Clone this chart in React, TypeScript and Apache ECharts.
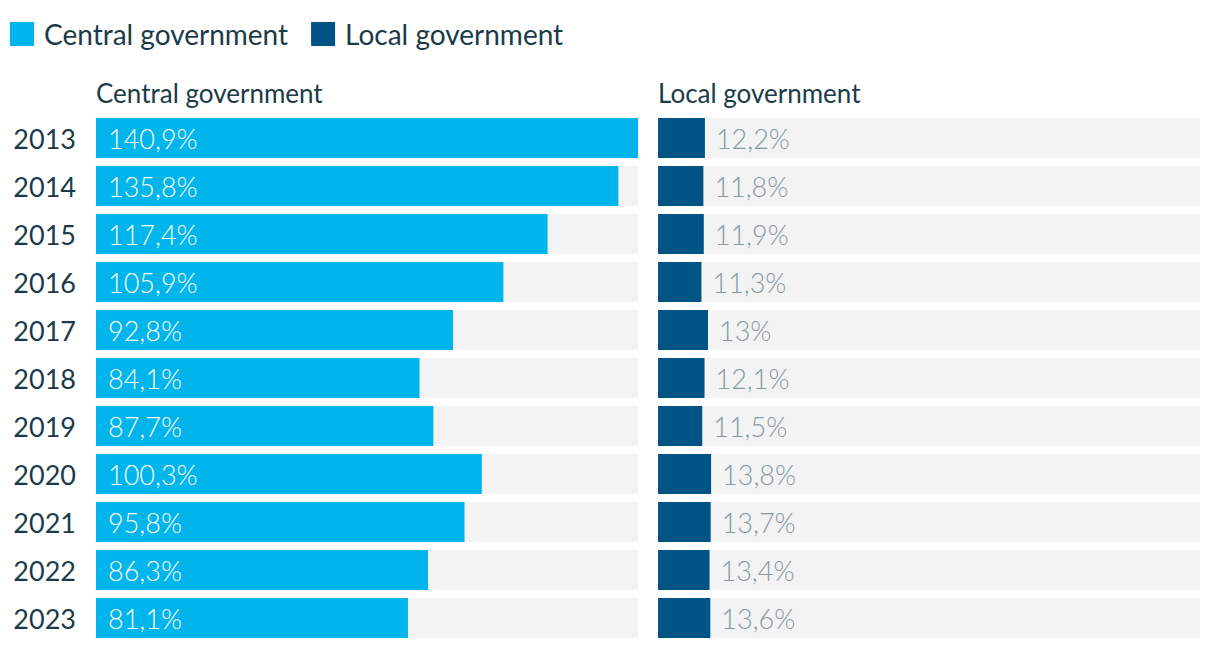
import React, { useEffect, useRef } from "react";
import * as echarts from "echarts";

const years = ["2013", "2014", "2015", "2016", "2017", "2018", "2019", "2020", "2021", "2022", "2023"];
const centralValues = [140.9, 135.8, 117.4, 105.9, 92.8, 84.1, 87.7, 100.3, 95.8, 86.3, 81.1];
const localValues = [12.2, 11.8, 11.9, 11.3, 13, 12.1, 11.5, 13.8, 13.7, 13.4, 13.6];
const seriesNames = ["Central government", "Local government"];

const CYAN = "#00b4ec";
const NAVY = "#005486";
const TEXT = "#1b3b48";
const FONT = "Lato, 'Noto Sans', sans-serif";

const fmt = (v: number) => String(v).replace(".", ",") + "%";

export default function App() {
  const ref = useRef<HTMLDivElement>(null);
  useEffect(() => {
    if (!ref.current) return;
    const chart = echarts.init(ref.current, undefined, { renderer: "svg" });
    const maxV = 140.9;
    chart.setOption({
      animation: false,
      textStyle: { fontFamily: FONT },
      legend: {
        left: 2,
        top: 12,
        padding: 0,
        itemWidth: 24,
        itemHeight: 24,
        itemGap: 23,
        icon: "rect",
        data: seriesNames,
        textStyle: { fontSize: 28, color: TEXT, fontFamily: FONT, padding: [0, 0, 0, 5] },
        selectedMode: false,
      },
      title: [
        { text: "Central government", left: 88, top: 72, padding: 0, textStyle: { fontSize: 26, fontWeight: "normal", color: TEXT, fontFamily: FONT } },
        { text: "Local government", left: 650, top: 72, padding: 0, textStyle: { fontSize: 26, fontWeight: "normal", color: TEXT, fontFamily: FONT } },
      ],
      grid: [
        { left: 88, width: 542, top: 106, height: 528 },
        { left: 650, width: 542, top: 106, height: 528 },
      ],
      xAxis: [
        { type: "value", gridIndex: 0, min: 0, max: maxV, show: false },
        { type: "value", gridIndex: 1, min: 0, max: maxV, show: false },
      ],
      yAxis: [
        {
          type: "category",
          gridIndex: 0,
          data: years,
          inverse: true,
          axisLine: { show: false },
          axisTick: { show: false },
          axisLabel: { fontSize: 27, color: TEXT, margin: 20, fontFamily: FONT },
        },
        {
          type: "category",
          gridIndex: 1,
          data: years,
          inverse: true,
          axisLine: { show: false },
          axisTick: { show: false },
          axisLabel: { show: false },
        },
      ],
      series: [
        {
          name: seriesNames[0],
          type: "bar",
          xAxisIndex: 0,
          yAxisIndex: 0,
          data: centralValues,
          barWidth: 40,
          itemStyle: { color: CYAN },
          showBackground: true,
          backgroundStyle: { color: "#f3f3f3" },
          label: {
            show: true,
            position: "insideLeft",
            distance: 12,
            color: "#ffffff",
            fontSize: 27,
            fontWeight: 300,
            fontFamily: FONT,
            formatter: (p: any) => fmt(p.value),
          },
        },
        {
          name: seriesNames[1],
          type: "bar",
          xAxisIndex: 1,
          yAxisIndex: 1,
          data: localValues,
          barWidth: 40,
          itemStyle: { color: NAVY },
          showBackground: true,
          backgroundStyle: { color: "#f3f3f3" },
          label: {
            show: true,
            position: "right",
            distance: 11,
            color: "#87999f",
            fontSize: 27,
            fontWeight: 300,
            fontFamily: FONT,
            formatter: (p: any) => fmt(p.value),
          },
        },
      ],
    });
    return () => chart.dispose();
  }, []);
  return <div ref={ref} style={{ width: 1204, height: 634 }} />;
}
